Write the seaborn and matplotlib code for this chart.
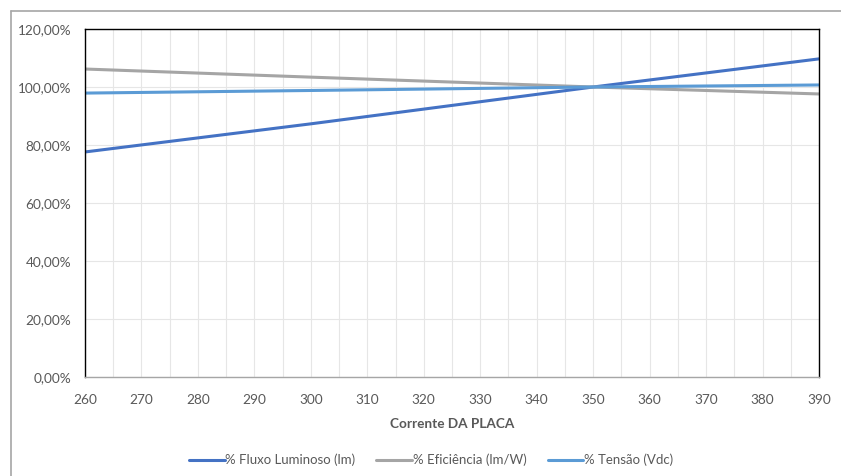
import matplotlib
matplotlib.use("Agg")
import matplotlib.pyplot as plt
import seaborn as sns
import pandas as pd
from matplotlib.ticker import FuncFormatter, MultipleLocator
from matplotlib.lines import Line2D

corrente = [260, 300, 350, 390]
fluxo = [0.776, 0.873, 1.000, 1.097]
eficiencia = [1.062, 1.034, 1.000, 0.976]
tensao = [0.979, 0.988, 1.000, 1.007]

series_names = ["% Fluxo Luminoso (lm)", "% Eficiência (lm/W)", "% Tensão (Vdc)"]
colors = ["#4472C4", "#A5A5A5", "#5B9BD5"]

rows = []
for name, vals in zip(series_names, [fluxo, eficiencia, tensao]):
    for x, v in zip(corrente, vals):
        rows.append({"Corrente": x, "Valor": v, "Serie": name})
df = pd.DataFrame(rows)

sns.set_style("white")
plt.rcParams["font.family"] = ["Lato", "DejaVu Sans"]

fig = plt.figure(figsize=(8.41, 4.76), dpi=100)
ax = fig.add_axes([85/841, 1-377/476, (819-85)/841, (377-29)/476])

sns.lineplot(data=df, x="Corrente", y="Valor", hue="Serie", palette=colors,
             hue_order=series_names, linewidth=2.2, ax=ax, legend=False)

ax.set_xlim(260, 390)
ax.set_ylim(0, 1.2)
ax.xaxis.set_major_locator(MultipleLocator(10))
ax.xaxis.set_minor_locator(MultipleLocator(5))
ax.yaxis.set_major_locator(MultipleLocator(0.2))
ax.yaxis.set_major_formatter(FuncFormatter(lambda v, p: f"{v*100:.2f}%".replace(".", ",")))
ax.grid(True, which="both", axis="x", color="#E6E6E6", linewidth=0.8)
ax.grid(True, which="major", axis="y", color="#E6E6E6", linewidth=0.8)
ax.tick_params(axis="both", which="both", length=0, labelsize=9.8, labelcolor="#595959")
ax.tick_params(axis="y", pad=10)
ax.tick_params(axis="x", pad=12)

for s in ["left", "right", "top"]:
    ax.spines[s].set_color("black")
    ax.spines[s].set_linewidth(1.0)
ax.spines["bottom"].set_color("#A6A6A6")
ax.spines["bottom"].set_linewidth(1.0)

ax.set_xlabel("Corrente DA PLACA", fontsize=9.8, fontweight="bold", color="#595959", labelpad=9)
ax.set_ylabel("")

handles = [Line2D([0], [0], color=c, linewidth=2.2) for c in colors]
fig.legend(handles, series_names, loc="center", bbox_to_anchor=(431/841, 1-460/476),
           ncol=3, frameon=False, fontsize=9.5, labelcolor="#595959",
           handlelength=2.7, handletextpad=0.05, columnspacing=1.6)

# outer chart border
fig.add_artist(Line2D([11/841, 11/841], [1-11/476, 0], transform=fig.transFigure, color="#A6A6A6", linewidth=1.2))
fig.add_artist(Line2D([11/841, 1], [1-11/476, 1-11/476], transform=fig.transFigure, color="#A6A6A6", linewidth=1.2))

fig.savefig("out.png", dpi=100)
